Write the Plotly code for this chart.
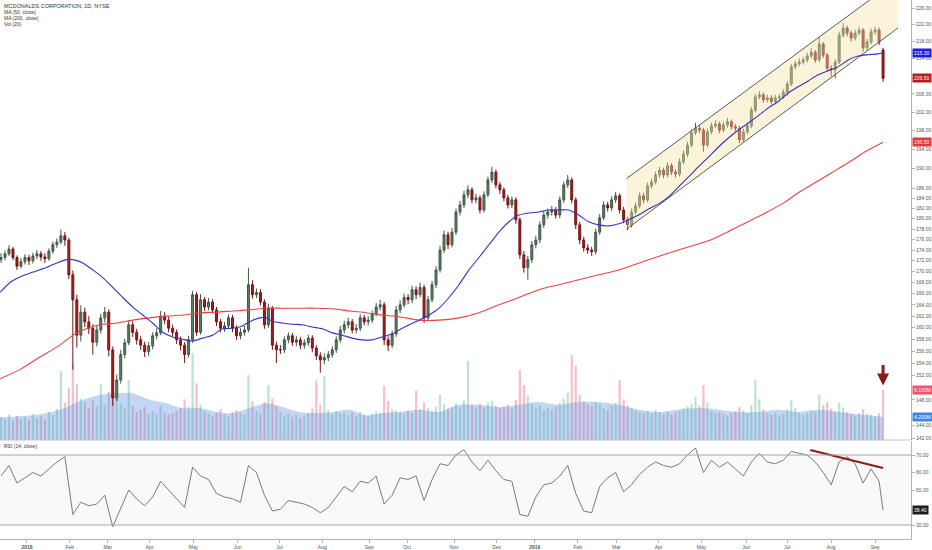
import numpy as np
import plotly.graph_objects as go

# MCD daily chart, sampled as 2-day bars (index 0 .. 221)
first_open = 172.2
gap_opens = {221: 216.0}

closes = [
    172.6, 173.3, 174.2, 172.6, 171.0, 171.8, 172.6, 172.0, 172.9, 173.3,
    172.7, 172.4, 173.8, 175.0, 175.5, 176.7, 175.9, 169.4, 164.9, 158.7,
    162.7, 161.0, 159.9, 157.5, 159.6, 161.7, 162.7, 156.2, 148.3, 151.2,
    155.4, 157.4, 160.5, 159.2, 157.9, 157.0, 155.9, 156.9, 158.6, 159.1,
    162.0, 161.3, 159.9, 159.2, 157.9, 157.0, 155.4, 157.9, 165.8, 159.2,
    164.9, 163.6, 164.5, 163.1, 161.0, 159.9, 160.3, 161.7, 159.9, 158.6,
    159.2, 159.6, 167.6, 165.8, 166.2, 164.5, 160.5, 163.4, 157.0, 156.2,
    156.2, 157.9, 158.6, 157.5, 157.9, 157.0, 157.4, 158.2, 156.5, 155.2,
    154.5, 154.9, 155.4, 156.2, 157.9, 159.6, 160.5, 161.0, 159.6, 159.9,
    161.7, 161.0, 161.3, 162.4, 163.6, 164.0, 157.9, 157.0, 158.9, 163.1,
    164.0, 165.3, 164.9, 166.7, 165.8, 167.1, 161.7, 164.9, 167.6, 170.3,
    174.0, 176.9, 175.0, 177.4, 181.3, 182.7, 184.7, 185.7, 183.7, 184.1,
    181.7, 184.7, 187.7, 189.3, 186.7, 185.7, 184.1, 182.7, 183.7, 179.8,
    173.1, 170.7, 172.2, 175.0, 175.9, 178.8, 180.7, 181.3, 181.7, 180.7,
    183.7, 186.7, 187.7, 183.7, 178.8, 175.9, 174.4, 174.0, 173.7, 177.4,
    180.2, 182.7, 182.1, 183.7, 184.5, 181.7, 179.8, 178.8, 181.3, 182.5,
    184.5, 183.7, 186.5, 187.3, 188.7, 189.7, 188.7, 190.6, 189.3, 188.9,
    191.4, 193.0, 194.9, 197.5, 198.5, 198.1, 194.9, 197.7, 199.0, 199.4,
    198.1, 199.2, 199.9, 198.8, 198.5, 196.0, 197.7, 199.0, 202.4, 205.3,
    205.8, 204.7, 205.1, 204.3, 205.1, 205.3, 206.4, 208.2, 212.1, 212.8,
    213.2, 213.7, 214.6, 215.5, 213.7, 217.4, 214.8, 211.8, 211.4, 213.2,
    219.5, 221.2, 220.0, 218.8, 220.0, 220.7, 216.5, 217.9, 220.3, 220.7,
    217.9, 209.5,
]

highs = [
    173.4, 173.9, 174.9, 174.6, 173.0, 172.5, 173.2, 173.1, 173.5, 174.0,
    173.8, 173.4, 174.3, 175.6, 176.2, 177.9, 177.4, 176.3, 170.2, 165.8,
    163.9, 163.5, 162.0, 160.6, 160.3, 162.4, 163.6, 163.2, 156.8, 152.1,
    156.2, 158.1, 161.2, 161.1, 159.8, 158.6, 157.6, 157.5, 159.2, 159.9,
    162.9, 162.7, 161.9, 160.5, 159.7, 158.5, 157.5, 158.6, 166.5, 166.3,
    165.9, 165.4, 165.2, 165.0, 163.6, 161.5, 161.0, 162.3, 162.2, 160.4,
    159.9, 160.3, 170.7, 168.4, 166.9, 166.8, 165.0, 164.2, 163.8, 157.6,
    157.0, 158.5, 159.2, 159.1, 158.6, 158.4, 158.0, 158.8, 158.7, 157.0,
    155.8, 155.6, 156.0, 156.8, 158.5, 160.3, 161.2, 161.7, 161.5, 160.6,
    162.3, 162.2, 162.0, 163.0, 164.3, 164.9, 164.5, 158.5, 159.5, 163.8,
    164.8, 166.0, 165.9, 167.4, 167.3, 168.0, 167.6, 165.6, 168.3, 171.0,
    174.8, 177.7, 177.5, 178.2, 182.0, 183.5, 185.5, 186.6, 186.2, 184.9,
    184.6, 185.4, 188.4, 190.4, 189.8, 187.3, 186.2, 184.7, 184.4, 184.2,
    180.3, 173.8, 172.9, 175.7, 176.7, 179.5, 181.4, 182.0, 182.5, 182.3,
    184.4, 187.4, 188.7, 188.2, 184.2, 179.4, 176.5, 175.1, 174.6, 178.1,
    180.9, 183.4, 183.3, 184.4, 185.3, 185.0, 182.3, 180.4, 182.0, 183.2,
    185.2, 185.1, 187.2, 188.0, 189.4, 190.4, 190.2, 191.3, 191.1, 189.9,
    192.1, 193.8, 195.6, 198.2, 199.6, 199.2, 198.6, 198.4, 199.7, 200.2,
    199.9, 199.9, 200.7, 200.4, 199.4, 199.0, 198.4, 199.7, 203.1, 206.0,
    206.6, 206.3, 205.8, 205.7, 205.8, 206.0, 207.1, 208.9, 212.8, 213.5,
    214.0, 214.4, 215.3, 216.5, 216.0, 219.0, 217.9, 215.3, 212.5, 213.9,
    220.3, 222.4, 221.8, 220.6, 220.8, 221.5, 221.2, 218.6, 221.1, 221.5,
    221.3, 216.5,
]

lows = [
    171.6, 172.1, 172.9, 172.1, 170.3, 170.6, 171.3, 171.2, 171.5, 172.3,
    172.0, 171.6, 172.0, 173.3, 174.4, 175.1, 174.8, 168.6, 152.9, 156.6,
    157.6, 160.1, 158.9, 155.4, 156.8, 159.0, 160.9, 155.1, 147.0, 147.8,
    150.6, 154.8, 157.0, 158.4, 157.1, 156.2, 155.0, 155.2, 156.3, 158.0,
    158.7, 160.6, 159.2, 158.5, 157.2, 156.1, 154.0, 154.9, 157.4, 158.6,
    158.8, 162.9, 163.0, 162.5, 160.3, 159.2, 159.3, 159.8, 159.2, 157.9,
    158.0, 158.6, 159.2, 165.1, 165.2, 163.9, 159.8, 160.0, 156.2, 154.0,
    155.5, 155.7, 157.3, 156.9, 156.8, 156.3, 156.4, 156.9, 155.8, 154.5,
    152.4, 153.8, 154.3, 154.9, 155.7, 157.4, 159.0, 159.9, 159.0, 159.0,
    159.4, 160.4, 160.4, 160.8, 162.0, 163.0, 157.0, 156.0, 156.5, 158.4,
    162.5, 163.5, 164.1, 164.3, 165.0, 165.3, 160.8, 161.2, 164.4, 167.0,
    169.8, 173.4, 174.2, 174.5, 176.9, 180.6, 182.1, 184.0, 183.0, 183.0,
    181.0, 181.2, 184.2, 187.1, 186.0, 184.9, 183.4, 182.0, 182.1, 179.0,
    172.3, 169.8, 168.5, 171.6, 174.3, 175.3, 178.2, 180.0, 180.6, 180.0,
    180.1, 183.1, 186.1, 183.0, 178.0, 175.1, 173.7, 173.3, 172.9, 173.2,
    176.9, 179.7, 181.4, 181.5, 183.1, 181.0, 179.1, 177.8, 178.3, 180.8,
    182.0, 183.0, 183.2, 185.9, 186.8, 188.1, 188.0, 188.2, 188.7, 188.2,
    188.4, 190.9, 192.4, 194.4, 197.0, 197.4, 193.5, 194.4, 197.2, 198.5,
    197.4, 197.6, 198.6, 198.2, 197.8, 195.3, 195.5, 197.2, 198.5, 201.9,
    204.8, 204.0, 204.1, 203.6, 203.7, 204.5, 204.8, 205.6, 207.7, 211.5,
    212.2, 212.6, 213.1, 214.0, 213.0, 213.2, 214.1, 211.0, 209.9, 209.5,
    212.7, 218.9, 219.2, 218.0, 218.2, 219.4, 215.6, 215.9, 217.3, 219.6,
    217.2, 208.7,
]

# volume, millions
volumes = [
    4.1, 3.8, 4.6, 3.5, 4.4, 3.9, 4.2, 3.6, 4.8, 4.0,
    4.3, 3.7, 5.1, 4.5, 5.6, 12.5, 6.8, 9.4, 13.6, 10.2,
    7.5, 6.9, 5.8, 7.2, 6.1, 10.1, 6.4, 8.8, 9.6, 8.1,
    6.6, 5.9, 10.9, 6.2, 5.1, 5.5, 6.0, 4.8, 5.2, 4.7,
    6.3, 5.0, 4.6, 4.9, 5.3, 5.8, 7.4, 6.1, 15.8, 10.3,
    6.4, 5.2, 4.8, 4.4, 5.0, 5.6, 4.7, 4.3, 5.1, 5.4,
    4.9, 4.6, 11.8, 7.0, 5.3, 4.8, 6.9, 10.0, 7.6, 6.2,
    5.1, 4.5, 4.8, 4.2, 4.6, 4.1, 4.4, 4.9, 5.7, 10.8,
    6.4, 11.6, 5.5, 4.7, 5.2, 4.8, 5.0, 4.5, 4.9, 4.4,
    5.1, 4.6, 4.3, 4.8, 5.2, 4.9, 9.9, 7.1, 5.6, 5.4,
    5.0, 4.7, 5.3, 4.9, 9.0, 5.6, 6.8, 5.8, 5.3, 6.1,
    8.2, 6.5, 5.7, 6.0, 6.6, 5.9, 7.2, 14.4, 6.3, 5.8,
    6.5, 5.9, 6.8, 7.1, 6.2, 5.8, 6.0, 6.4, 5.7, 7.3,
    12.7, 10.0, 8.1, 6.6, 5.9, 6.2, 5.4, 5.8, 5.5, 6.0,
    6.8, 7.5, 8.6, 15.4, 13.5, 8.2, 7.0, 6.4, 6.1, 6.9,
    6.5, 5.8, 5.5, 6.2, 6.8, 10.9, 7.4, 6.3, 5.7, 5.4,
    5.0, 4.8, 5.3, 4.9, 5.5, 5.1, 4.7, 5.2, 4.6, 5.0,
    5.4, 5.8, 6.1, 6.6, 7.9, 6.2, 10.0, 6.8, 5.3, 4.9,
    5.1, 4.8, 4.5, 4.9, 5.2, 6.0, 5.4, 4.8, 6.3, 11.0,
    7.4, 5.6, 4.9, 4.6, 5.0, 4.4, 4.8, 5.5, 7.2, 5.8,
    5.0, 4.6, 4.9, 5.3, 5.1, 8.2, 6.4, 6.9, 5.7, 5.2,
    6.8, 5.9, 5.1, 4.7, 4.4, 4.9, 5.6, 4.8, 4.6, 4.3,
    4.9, 9.1,
]

ma50_x = [-0.25, 2.25, 4.75, 8, 11.5, 14, 16.5, 18, 20.5, 23,
          25.5, 28, 30.5, 33, 35.5, 38, 40.5, 43, 45.5, 48,
          50.5, 53, 55.5, 58, 60.5, 62.25, 64.75, 66.5, 68, 70.5,
          73, 75.5, 78, 80.5, 83, 85.5, 88, 90.5, 93, 95.5,
          98, 99.75, 102.25, 104.75, 107.25, 109.75, 112.25, 114.75, 117.25, 119.75,
          122.25, 124.75, 127.25, 129.75, 132.25, 134.75, 137.25, 139.75, 142.25, 144.75,
          147.25, 149.75, 152.25, 154.75, 157.25, 159.75, 162.25, 164.75, 167.25, 169.75,
          172.25, 174.75, 177.25, 179.75, 182.25, 184.75, 187.25, 189.75, 192.25, 194.75,
          197.25, 199.75, 202.25, 204.75, 207.25, 209.75, 212.25, 214.75, 217.25, 219.75,
          221]
ma50 = [166.2, 168.0, 169.0, 169.9, 170.8, 171.6, 172.2, 172.2, 171.6, 170.3,
        168.9, 167.1, 165.3, 163.6, 162.2, 160.8, 159.2, 158.4, 158.0, 157.7,
        158.2, 158.7, 159.8, 159.9, 160.3, 161.0, 161.7, 161.7, 161.1, 160.8,
        160.6, 160.5, 160.1, 159.8, 159.1, 158.7, 158.2, 157.9, 157.9, 158.4,
        158.9, 159.6, 160.5, 161.3, 162.2, 163.4, 165.3, 167.6, 170.3, 172.6,
        175.0, 177.4, 179.4, 180.7, 181.1, 181.3, 181.7, 181.7, 181.7, 180.7,
        179.4, 178.8, 178.6, 179.0, 179.8, 180.7, 181.9, 182.9, 184.3, 186.3,
        188.3, 190.4, 192.4, 194.5, 196.4, 198.1, 199.6, 201.2, 202.9, 204.3,
        206.2, 207.6, 208.9, 210.3, 211.2, 212.1, 213.7, 214.6, 214.9, 215.1,
        215.3]

ma200_x = [-0.25, 4.75, 9.75, 14.75, 18, 20.5, 24.75, 29, 33, 37.25,
           41.5, 45.5, 49.75, 54, 58, 62.25, 66.5, 70.5, 74.75, 79,
           83, 87.25, 91.5, 95.5, 99.75, 104.75, 109.75, 114.75, 119.75, 124.75,
           129.75, 134.75, 139.75, 144.75, 149.75, 154.75, 162.25, 169.75, 177.75, 183,
           191.5, 196.5, 199.75, 208, 212.25, 216.5, 221]
ma200 = [151.4, 152.9, 155.0, 157.0, 158.7, 159.6, 160.5, 160.8, 161.3, 161.7,
         162.0, 162.2, 162.6, 162.7, 162.9, 163.1, 163.4, 163.4, 163.4, 163.4,
         163.3, 162.9, 162.6, 162.2, 161.9, 161.3, 161.3, 161.7, 162.6, 164.0,
         165.3, 166.7, 167.6, 168.5, 169.4, 170.3, 172.2, 174.0, 175.9, 177.8,
         181.1, 183.3, 185.1, 189.1, 191.2, 193.5, 195.5]

volma_x = [-0.25, 8, 14.75, 20.5, 24.75, 29, 33, 37.25, 41.5, 45.5,
           49.75, 54, 58, 62.25, 66.5, 70.5, 74.75, 79, 83, 87.25,
           91.5, 95.5, 99.75, 104.75, 109.75, 114.75, 119.75, 124.75, 129.75, 134.75,
           139.75, 144.75, 149.75, 154.75, 159.75, 164.75, 169.75, 174.75, 179.75, 184.75,
           189.75, 194.75, 199.75, 204.75, 209.75, 214.75, 221]
volma = [4.2, 4.5, 5.5, 7.3, 8.2, 8.5, 8.5, 7.3, 6.7, 5.8,
         5.8, 5.1, 4.9, 5.8, 6.7, 6.0, 5.1, 4.9, 5.1, 5.5,
         4.5, 4.9, 5.1, 5.5, 5.1, 6.4, 6.4, 6.0, 6.4, 6.9,
         6.4, 6.9, 6.9, 6.4, 5.5, 5.1, 5.5, 5.8, 5.5, 5.1,
         5.1, 5.5, 5.1, 5.5, 5.1, 4.7, 4.2]

# RSI(14) at every second bar, plus the last one
rsi = [58, 64, 54, 57, 60, 58, 62, 66, 69, 36,
       43, 41, 42, 47, 29, 40, 50, 45, 41, 46,
       55, 50, 45, 40, 63, 58, 56, 48, 46, 45,
       43, 64, 60, 47, 38, 39, 44, 43, 42, 40,
       37, 40, 46, 52, 49, 55, 54, 58, 42, 47,
       57, 56, 58, 44, 56, 65, 64, 70, 73, 66,
       61, 67, 61, 56, 55, 36, 35, 46, 53, 54,
       58, 64, 48, 38, 37, 52, 57, 60, 49, 53,
       59, 63, 66, 64, 63, 65, 70, 74, 60, 67,
       63, 66, 62, 58, 66, 71, 66, 65, 67, 72,
       71, 70, 66, 60, 53, 66, 69, 65, 54, 62,
       55, 38.4]
rsi_x = list(range(0, 221, 2)) + [221]

# drawings
channel_x = [156.75, 224.75]
channel_low = [178.0, 221.2]
channel_high = [188.0, 233.2]
rsi_trend_x = [202.75, 221]
rsi_trend = [72.9, 62.6]

month_pos = [6.5, 17.25, 26.75, 37.25, 48.25, 59.25, 69.75, 80.5, 92.25, 101.75, 113.5,
             124.25, 133.75, 144.5, 154.25, 164.75, 175.5, 186.75, 197, 208, 219]
month_text = ["<b>2018</b>", "Feb", "Mar", "Apr", "May", "Jun", "Jul", "Aug", "Sep", "Oct", "Nov",
              "Dec", "<b>2019</b>", "Feb", "Mar", "Apr", "May", "Jun", "Jul", "Aug", "Sep"]
# scale marks that sit under the value labels are left out
price_ticks = [226, 222, 218, 214, 206, 202, 198, 194, 190, 186, 184, 182, 180, 178,
               176, 174, 172, 170, 168, 166, 164, 162, 160, 158, 156, 154, 152, 148,
               144, 142]
rsi_ticks = [30, 50, 60, 70]

FONT = "Liberation Sans, Arial, sans-serif"
AX = "#b4b4b4"
TXT = "#555555"

idx = list(range(len(closes)))
opens = [first_open] + closes[:-1]
for k, v in gap_opens.items():
    opens[k] = v
vol_colors = ["rgba(110,190,150,0.45)" if c >= o else "rgba(236,110,132,0.45)"
              for o, c in zip(opens, closes)]

fig = go.Figure()

# volume pane (base axis y, drawn under price)
fig.add_trace(go.Scatter(x=volma_x, y=volma, mode="lines", fill="tozeroy",
                         line=dict(width=0, shape="spline"),
                         fillcolor="rgba(90,140,225,0.36)", yaxis="y", hoverinfo="skip"))
fig.add_trace(go.Bar(x=idx, y=volumes, marker=dict(color=vol_colors, line=dict(width=0)),
                     yaxis="y", hoverinfo="skip"))

# channel
fig.add_trace(go.Scatter(x=channel_x + channel_x[::-1] + channel_x[:1],
                         y=channel_low + channel_high[::-1] + channel_low[:1],
                         mode="lines", fill="toself", line=dict(width=0),
                         fillcolor="rgba(248,226,170,0.42)", yaxis="y3", hoverinfo="skip"))
for rail in (channel_low, channel_high):
    fig.add_trace(go.Scatter(x=channel_x, y=rail, mode="lines",
                             line=dict(color="#5a5a5a", width=1), yaxis="y3", hoverinfo="skip"))

fig.add_trace(go.Scatter(x=ma200_x, y=ma200, mode="lines",
                         line=dict(color="#e84343", width=1.1, shape="spline", smoothing=0.6),
                         yaxis="y3"))
fig.add_trace(go.Scatter(x=ma50_x, y=ma50, mode="lines",
                         line=dict(color="#3434c4", width=1.1, shape="spline", smoothing=0.6),
                         yaxis="y3"))

fig.add_trace(go.Candlestick(
    x=idx, open=opens, high=highs, low=lows, close=closes, yaxis="y3",
    increasing=dict(line=dict(color="#3f5745", width=1), fillcolor="#5f7f66"),
    decreasing=dict(line=dict(color="#741313", width=1), fillcolor="#a61e1e"),
    whiskerwidth=0, hoverinfo="skip"))

# RSI pane
fig.add_trace(go.Scatter(x=rsi_x, y=rsi, mode="lines",
                         line=dict(color="#7a7a7a", width=1), yaxis="y2"))
fig.add_trace(go.Scatter(x=rsi_trend_x, y=rsi_trend, mode="lines",
                         line=dict(color="#8e1b1b", width=2), yaxis="y2"))

price_lo, price_hi = 141.7, 228.0
split = (539 - 440) / 539

fig.update_layout(
    width=932, height=550,
    margin=dict(l=0, r=19, t=0, b=11),
    paper_bgcolor="white", plot_bgcolor="white",
    showlegend=False, bargap=0.45,
    font=dict(family=FONT, size=5, color=TXT),
    xaxis=dict(domain=[0, 1], range=[-0.25, 228], anchor="y2",
               tickvals=month_pos, ticktext=month_text, tickfont=dict(size=5, color=TXT),
               ticks="outside", ticklen=3, tickcolor=AX,
               showline=True, linecolor=AX, showgrid=False, zeroline=False,
               rangeslider=dict(visible=False)),
    yaxis=dict(domain=[split, 1], range=[0, 80], visible=False, fixedrange=True),
    yaxis3=dict(overlaying="y", side="right", anchor="x", type="log",
                range=[np.log10(price_lo), np.log10(price_hi)],
                tickvals=price_ticks, ticktext=[f"{t:.2f}" for t in price_ticks],
                tickfont=dict(size=5, color=TXT), ticks="outside", ticklen=3, tickcolor=AX,
                showline=True, linecolor=AX, showgrid=False, zeroline=False),
    yaxis2=dict(domain=[0, (539 - 441) / 539], range=[22, 78], side="right", anchor="x",
                tickvals=rsi_ticks, ticktext=[f"{t:.2f}" for t in rsi_ticks],
                tickfont=dict(size=5, color=TXT), ticks="outside", ticklen=3, tickcolor=AX,
                showline=True, linecolor=AX, showgrid=False, zeroline=False),
)

# pane separator and RSI bands
fig.add_shape(type="line", xref="paper", yref="paper", x0=0, x1=1, y0=split, y1=split,
              line=dict(color="#c4c4c4", width=1))
fig.add_shape(type="rect", xref="paper", yref="y2", x0=0, x1=1, y0=30, y1=70,
              fillcolor="rgba(150,150,200,0.06)", line=dict(width=0), layer="below")
for lvl in (30, 70):
    fig.add_shape(type="line", xref="paper", yref="y2", x0=0, x1=1, y0=lvl, y1=lvl,
                  line=dict(color="#a6a6a6", width=1.2))

# header texts
header = ["MCDONALDS CORPORATION, 1D, NYSE", "MA (50, close)", "MA (200, close)", "Vol (20)"]
for n, t in enumerate(header):
    fig.add_annotation(text=t, xref="paper", yref="paper", x=0.002, y=(539 - 6 - 6 * n) / 539,
                       xanchor="left", yanchor="middle", showarrow=False,
                       font=dict(size=5.5 if n == 0 else 5, color="#333333"))
fig.add_annotation(text="RSI (14, close)", xref="paper", yref="paper", x=0.002,
                   y=(539 - 446) / 539, xanchor="left", yanchor="middle", showarrow=False,
                   font=dict(size=5, color="#333333"))

# last-value labels on the right scale
labels = [
    ("y3", np.log10(ma50[-1]), f"{ma50[-1]:.2f}", "#1f1fe6"),
    ("y3", np.log10(closes[-1]), f"{closes[-1]:.2f}", "#b71c1c"),
    ("y3", np.log10(ma200[-1]), f"{ma200[-1]:.2f}", "#e53935"),
    ("y", volumes[-1], f"{volumes[-1]:.3f}M", "#ef5370"),
    ("y", volma[-1], f"{volma[-1]:.3f}M", "#3d86e0"),
    ("y2", rsi[-1], f"{rsi[-1]:.2f}", "#1e1e1e"),
]
for yref, yv, txt, col in labels:
    fig.add_annotation(text=txt, xref="paper", yref=yref, x=1, y=yv, xanchor="left",
                       yanchor="middle", xshift=1, showarrow=False, bgcolor=col, borderpad=1,
                       font=dict(size=5, color="white"))

# arrow above the last volume bar
fig.add_annotation(x=221, y=9.9, xref="x", yref="y", ax=0, ay=-22, text="",
                   showarrow=True, arrowhead=2, arrowsize=0.8, arrowwidth=3,
                   arrowcolor="#8b1a1a")

# the page's default body margin would shift the fixed-size figure
fig.write_html("out.html", config={"displayModeBar": False},
               post_script="document.body.style.margin='0';")
